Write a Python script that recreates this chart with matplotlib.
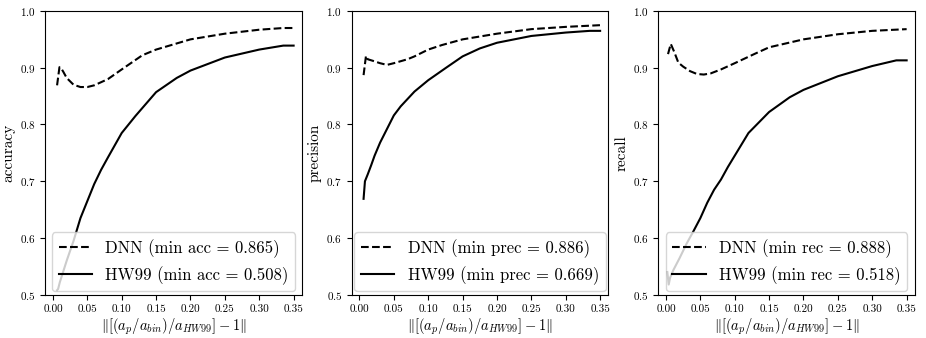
import matplotlib
matplotlib.use('Agg')

import matplotlib.pyplot as plt

plt.rcParams['font.family'] = 'serif'
plt.rcParams['font.serif'] = ['cmr10', 'DejaVu Serif']
plt.rcParams['mathtext.fontset'] = 'cm'
plt.rcParams['axes.formatter.use_mathtext'] = True

# accuracy
acc_dnn_x = [0.006, 0.0095, 0.012, 0.015, 0.02, 0.03, 0.04, 0.05, 0.06, 0.08,
             0.10, 0.13, 0.15, 0.20, 0.25, 0.30, 0.335, 0.35]
acc_dnn_y = [0.869, 0.901, 0.899, 0.893, 0.882, 0.870, 0.866, 0.866, 0.869, 0.880,
             0.897, 0.922, 0.932, 0.950, 0.960, 0.967, 0.970, 0.970]
acc_hw_x = [0.006, 0.0075, 0.01, 0.02, 0.03, 0.04, 0.05, 0.06, 0.07, 0.08, 0.10,
            0.12, 0.15, 0.18, 0.20, 0.25, 0.30, 0.335, 0.35]
acc_hw_y = [0.508, 0.510, 0.522, 0.560, 0.595, 0.635, 0.665, 0.695, 0.720, 0.742,
            0.785, 0.815, 0.857, 0.882, 0.895, 0.918, 0.932, 0.939, 0.939]

# precision
prec_dnn_x = [0.006, 0.0095, 0.012, 0.02, 0.03, 0.04, 0.05, 0.07, 0.08, 0.10,
              0.12, 0.15, 0.20, 0.25, 0.30, 0.35]
prec_dnn_y = [0.887, 0.921, 0.915, 0.912, 0.908, 0.905, 0.908, 0.915, 0.920, 0.932,
              0.940, 0.950, 0.960, 0.968, 0.972, 0.975]
prec_hw_x = [0.006, 0.008, 0.012, 0.017, 0.022, 0.03, 0.04, 0.05, 0.06, 0.08,
             0.10, 0.126, 0.15, 0.175, 0.20, 0.25, 0.30, 0.335, 0.35]
prec_hw_y = [0.669, 0.700, 0.712, 0.728, 0.745, 0.768, 0.792, 0.816, 0.832, 0.858,
             0.878, 0.900, 0.920, 0.934, 0.944, 0.956, 0.962, 0.965, 0.965]

# recall
rec_dnn_x = [0.003, 0.007, 0.012, 0.018, 0.025, 0.035, 0.045, 0.055, 0.065, 0.08,
             0.10, 0.13, 0.15, 0.20, 0.25, 0.30, 0.35]
rec_dnn_y = [0.924, 0.942, 0.928, 0.909, 0.902, 0.894, 0.889, 0.888, 0.890, 0.897,
             0.908, 0.925, 0.936, 0.950, 0.959, 0.965, 0.968]
rec_hw_x = [0.002, 0.004, 0.006, 0.011, 0.02, 0.03, 0.04, 0.05, 0.06, 0.07, 0.08,
            0.09, 0.10, 0.12, 0.15, 0.18, 0.20, 0.25, 0.30, 0.335, 0.35]
rec_hw_y = [0.540, 0.518, 0.530, 0.544, 0.565, 0.590, 0.612, 0.635, 0.662, 0.685,
            0.703, 0.725, 0.745, 0.785, 0.822, 0.848, 0.861, 0.885, 0.903, 0.913, 0.913]

metrics = ['accuracy', 'precision', 'recall']
short = ['acc', 'prec', 'rec']
dnn_min = [0.865, 0.886, 0.888]
hw_min = [0.508, 0.669, 0.518]
series = [
    (acc_dnn_x, acc_dnn_y, acc_hw_x, acc_hw_y),
    (prec_dnn_x, prec_dnn_y, prec_hw_x, prec_hw_y),
    (rec_dnn_x, rec_dnn_y, rec_hw_x, rec_hw_y),
]
xticks = [0.0, 0.05, 0.10, 0.15, 0.20, 0.25, 0.30, 0.35]

fig, axes = plt.subplots(1, 3, figsize=(9.26, 3.38), dpi=100)
fig.subplots_adjust(left=0.049, right=0.988, bottom=0.128, top=0.9675, wspace=0.195)

for i, ax in enumerate(axes):
    dx, dy, hx, hy = series[i]
    ax.plot(dx, dy, 'k--', lw=1.5, label=f"DNN (min {short[i]} = {dnn_min[i]:.3f})")
    ax.plot(hx, hy, 'k-', lw=1.5, label=f"HW99 (min {short[i]} = {hw_min[i]:.3f})")
    ax.set_ylim(0.5, 1.0)
    ax.set_xlim(-0.011, 0.362)
    ax.set_xticks(xticks)
    ax.set_xticklabels([f"{t:.2f}" for t in xticks])
    ax.tick_params(labelsize=8)
    ax.set_ylabel(metrics[i], fontsize=11, labelpad=3)
    ax.set_xlabel(r"$\|[(a_p/a_{bin})/a_{HW99}]-1\|$", fontsize=10.5, labelpad=2)
    ax.legend(loc='lower center', fontsize=12, borderaxespad=0.2)

plt.savefig("out.png")
plt.close()
